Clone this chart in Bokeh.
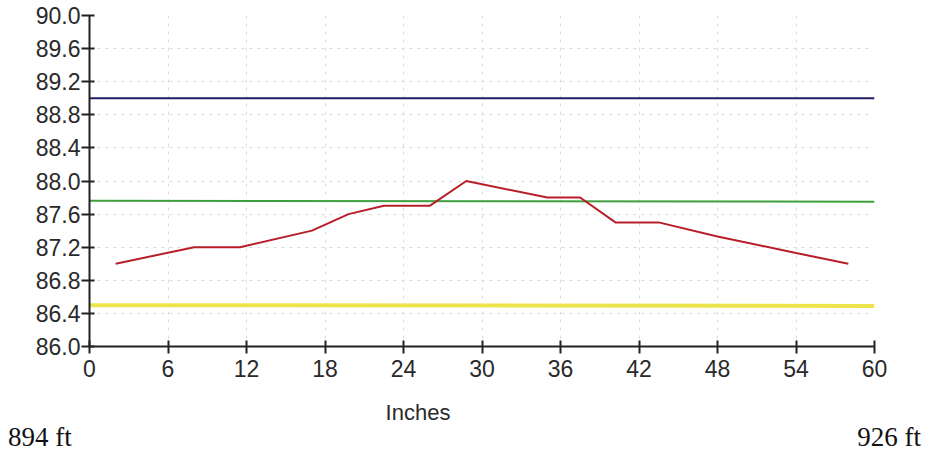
from bokeh.plotting import figure
from bokeh.models import FixedTicker, NumeralTickFormatter, Range1d, Div
from bokeh.layouts import column
from bokeh.embed import file_html
from bokeh.resources import INLINE

# Data
x_ticks = [0, 6, 12, 18, 24, 30, 36, 42, 48, 54, 60]
y_ticks = [86.0, 86.4, 86.8, 87.2, 87.6, 88.0, 88.4, 88.8, 89.2, 89.6, 90.0]

profile_x = [2, 8, 11.5, 17, 19.8, 22.5, 26, 28.8, 35, 37.5, 40.2, 43.5, 48, 54, 58]
profile_y = [87.0, 87.2, 87.2, 87.4, 87.6, 87.7, 87.7, 88.0, 87.8, 87.8, 87.5, 87.5, 87.33, 87.13, 87.0]

upper_x = [0, 60]
upper_y = [89.0, 89.0]
mid_x = [0, 60]
mid_y = [87.76, 87.75]
low_x = [0, 60]
low_y = [86.5, 86.49]

left_label = "894 ft"
right_label = "926 ft"
x_title = "Inches"

W, H = 925, 386
p = figure(width=W, height=H, output_backend="svg", toolbar_location=None,
           x_range=Range1d(0, 60), y_range=Range1d(86.0, 90.0),
           min_border_left=89, min_border_right=51, min_border_top=15, min_border_bottom=40)
p.outline_line_color = None
p.background_fill_color = "white"
p.border_fill_color = "white"

for ax in (p.xaxis[0], p.yaxis[0]):
    ax.axis_line_color = "#222222"
    ax.axis_line_width = 2
    ax.major_tick_line_color = "#222222"
    ax.major_tick_line_width = 2
    ax.minor_tick_line_color = None
    ax.major_label_text_font = "Liberation Sans"
    ax.major_label_text_font_size = "23px"
    ax.major_label_text_color = "#2a2a2a"

p.xaxis.ticker = FixedTicker(ticks=x_ticks)
p.yaxis.ticker = FixedTicker(ticks=y_ticks)
p.yaxis.formatter = NumeralTickFormatter(format="0.0")
p.xaxis.major_tick_out = 7
p.xaxis.major_tick_in = 6
p.yaxis.major_tick_out = 8
p.yaxis.major_tick_in = 5
p.xaxis.major_label_standoff = 6
p.yaxis.major_label_standoff = 1

p.xgrid.ticker = FixedTicker(ticks=x_ticks)
p.ygrid.ticker = FixedTicker(ticks=y_ticks)
for g in (p.xgrid[0], p.ygrid[0]):
    g.grid_line_color = "#dadada"
    g.grid_line_dash = "3 5"
    g.grid_line_width = 1

p.line(low_x, low_y, line_color="#ece44a", line_width=4)
p.line(mid_x, mid_y, line_color="#3f9f3f", line_width=2)
p.line(upper_x, upper_y, line_color="#1e1e66", line_width=2)
p.line(profile_x, profile_y, line_color="#b81e28", line_width=2)

caption = Div(
    text=(
        '<div style="position:relative;width:925px;height:64px;margin:0;padding:0">'
        '<span style="position:absolute;left:372px;width:92px;text-align:center;top:16px;'
        "font-family:'Liberation Sans';font-size:22px;line-height:22px;color:#2a2a2a\">"
        f'{x_title}</span>'
        '<span style="position:absolute;left:8px;top:38px;'
        "font-family:'Liberation Serif';font-size:27px;line-height:27px;color:#111\">"
        f'{left_label}</span>'
        '<span style="position:absolute;right:4px;top:38px;'
        "font-family:'Liberation Serif';font-size:27px;line-height:27px;color:#111\">"
        f'{right_label}</span>'
        '</div>'
    ),
    width=W, height=64, margin=(0, 0, 0, 0),
    styles={"margin": "0", "padding": "0"},
)

layout = column(p, caption, spacing=0)
open("out.html", "w").write(file_html(layout, INLINE))
